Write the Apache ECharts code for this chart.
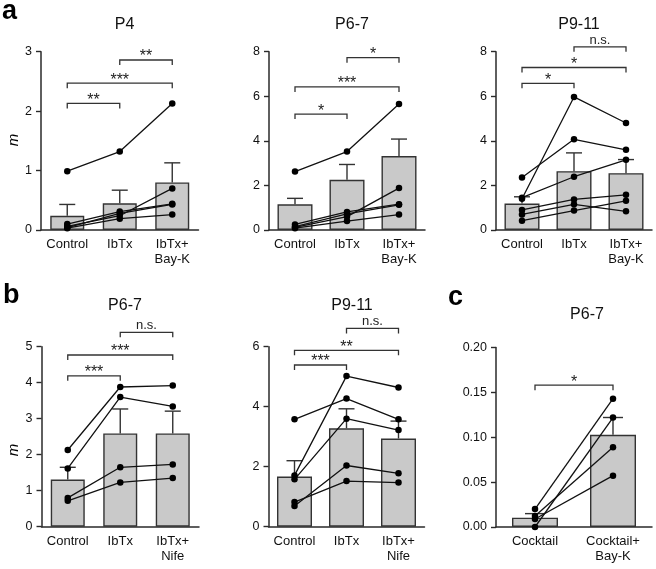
<!DOCTYPE html>
<html>
<head>
<meta charset="utf-8">
<script src="https://cdn.jsdelivr.net/npm/echarts@6/dist/echarts.min.js"></script>
<style>
html,body{margin:0;padding:0;background:#fff;}
#chart{width:656px;height:569px;}
</style>
</head>
<body>
<div id="chart"></div>
<script>
// ---------- categories ----------
const catsA = ['Control', 'IbTx', 'IbTx+\nBay-K'];
const catsB = ['Control', 'IbTx', 'IbTx+\nNife'];
const catsC = ['Cocktail', 'Cocktail+\nBay-K'];

// ---------- panel a, P4 ----------
const a1Mean = [0.24, 0.45, 0.80];
const a1Err = [0.43, 0.67, 1.13];
const a1Subjects = [[0.99, 1.32, 2.13], [0.06, 0.24, 0.70], [0.10, 0.31, 0.44], [0.04, 0.28, 0.43], [0.03, 0.19, 0.26]];
const a1Brackets = [[0, 1, 2.13, '**'], [0, 2, 2.47, '***'], [1, 2, 2.86, '**']];

// ---------- panel a, P6-7 ----------
const a2Mean = [1.15, 2.25, 3.32];
const a2Err = [1.42, 2.94, 4.08];
const a2Subjects = [[2.62, 3.52, 5.65], [0.12, 0.60, 1.88], [0.25, 0.81, 1.16], [0.15, 0.72, 1.13], [0.08, 0.40, 0.69]];
const a2Brackets = [[0, 1, 5.20, '*'], [0, 2, 6.42, '***'], [1, 2, 7.73, '*']];

// ---------- panel a, P9-11 ----------
const a3Mean = [1.19, 2.64, 2.55];
const a3Err = [1.49, 3.46, 3.16];
const a3Subjects = [[2.36, 4.07, 3.60], [1.40, 5.97, 4.80], [1.45, 2.39, 3.15], [0.90, 1.37, 1.58], [0.70, 1.15, 0.84], [0.42, 0.87, 1.31]];
const a3Brackets = [[0, 1, 6.58, '*'], [0, 2, 7.29, '*'], [1, 2, 8.22, 'n.s.']];

// ---------- panel b, P6-7 ----------
const b1Mean = [1.31, 2.59, 2.59];
const b1Err = [1.65, 3.27, 3.21];
const b1Subjects = [[2.13, 3.88, 3.92], [1.62, 3.60, 3.34], [0.80, 1.65, 1.73], [0.72, 1.23, 1.35]];
const b1Brackets = [[0, 1, 4.19, '***'], [0, 2, 4.77, '***'], [1, 2, 5.40, 'n.s.']];

// ---------- panel b, P9-11 ----------
const b2Mean = [1.67, 3.28, 2.94];
const b2Err = [2.20, 3.93, 3.52];
const b2Subjects = [[3.58, 4.27, 3.58], [1.71, 5.02, 4.64], [1.58, 3.60, 3.22], [0.69, 2.04, 1.78], [0.82, 1.52, 1.47]];
const b2Brackets = [[0, 1, 5.39, '***'], [0, 2, 5.88, '**'], [1, 2, 6.61, 'n.s.']];

// ---------- panel c, P6-7 ----------
const cMean = [0.0104, 0.1028];
const cErr = [0.0149, 0.122];
const cSubjects = [[0.020, 0.143], [0.0, 0.122], [0.0123, 0.0888], [0.0089, 0.0572]];
const cBrackets = [[0, 1, 0.158, '*']];

// ---------- y axis scales ----------
const yMax = [3, 8, 8, 5, 6, 0.20];
const yInterval = [1, 2, 2, 1, 2, 0.05];

const FONT = '"Liberation Sans", Arial, Helvetica, sans-serif';
const INK = '#2a2a2a';

const panels = [
  {title: 'P4', cats: catsA, mean: a1Mean, err: a1Err, subj: a1Subjects, br: a1Brackets,
   grid: {left: 41, top: 51.7, width: 157.5, height: 178.3}, bw: 34, cap: 16, tx: 119.5, ty: 12},
  {title: 'P6-7', cats: catsA, mean: a2Mean, err: a2Err, subj: a2Subjects, br: a2Brackets,
   grid: {left: 269, top: 51.7, width: 156, height: 178.3}, bw: 35, cap: 16, tx: 347, ty: 12},
  {title: 'P9-11', cats: catsA, mean: a3Mean, err: a3Err, subj: a3Subjects, br: a3Brackets,
   grid: {left: 496, top: 51.7, width: 156, height: 178.3}, bw: 35, cap: 16, tx: 574, ty: 12},
  {title: 'P6-7', cats: catsB, mean: b1Mean, err: b1Err, subj: b1Subjects, br: b1Brackets,
   grid: {left: 41.5, top: 346.7, width: 157.5, height: 180}, bw: 34, cap: 16, tx: 120, ty: 293},
  {title: 'P9-11', cats: catsB, mean: b2Mean, err: b2Err, subj: b2Subjects, br: b2Brackets,
   grid: {left: 268.5, top: 346.7, width: 156, height: 180}, bw: 35, cap: 16, tx: 347, ty: 293},
  {title: 'P6-7', cats: catsC, mean: cMean, err: cErr, subj: cSubjects, br: cBrackets,
   grid: {left: 496, top: 347.5, width: 156, height: 179.5}, bw: 46, cap: 20, tx: 582, ty: 302}
];

const option = {
  animation: false,
  backgroundColor: '#ffffff',
  title: [],
  grid: [],
  xAxis: [],
  yAxis: [],
  series: [],
  graphic: [
    {type: 'text', left: 2, top: -2, style: {text: 'a', font: 'bold 27px ' + FONT, fill: '#000'}},
    {type: 'text', left: 3, top: 282, style: {text: 'b', font: 'bold 27px ' + FONT, fill: '#000'}},
    {type: 'text', left: 448, top: 284, style: {text: 'c', font: 'bold 27px ' + FONT, fill: '#000'}},
    {type: 'text', x: 14, y: 140, rotation: Math.PI / 2,
     style: {text: 'm', font: 'italic 15px ' + FONT, fill: '#000', align: 'center', verticalAlign: 'middle'}},
    {type: 'text', x: 14, y: 450, rotation: Math.PI / 2,
     style: {text: 'm', font: 'italic 15px ' + FONT, fill: '#000', align: 'center', verticalAlign: 'middle'}}
  ]
};

panels.forEach((p, k) => {
  option.title.push({
    text: p.title, left: p.tx, top: p.ty, textAlign: 'center',
    textStyle: {fontFamily: FONT, fontSize: 16, fontWeight: 'normal', color: '#111'}
  });
  option.grid.push(Object.assign({containLabel: false}, p.grid));
  option.xAxis.push({
    type: 'category', gridIndex: k, data: p.cats,
    axisLine: {lineStyle: {color: INK, width: 1.5}},
    axisTick: {alignWithLabel: true, length: 5, lineStyle: {color: INK, width: 1.4}},
    axisLabel: {interval: 0, fontFamily: FONT, fontSize: 13, color: '#111', margin: 7, lineHeight: 15}
  });
  option.yAxis.push({
    type: 'value', gridIndex: k, min: 0, max: yMax[k], interval: yInterval[k],
    splitLine: {show: false},
    axisLine: {show: true, lineStyle: {color: INK, width: 1.5}},
    axisTick: {show: true, length: 5, lineStyle: {color: INK, width: 1.4}},
    axisLabel: {fontFamily: FONT, fontSize: 12.5, color: '#111', margin: 9,
      formatter: k === 5 ? (v) => v.toFixed(2) : (v) => String(v)}
  });
  // bars
  option.series.push({
    type: 'bar', xAxisIndex: k, yAxisIndex: k, data: p.mean, barWidth: p.bw,
    itemStyle: {color: '#c9c9c9', borderColor: '#333', borderWidth: 1.4}, z: 2
  });
  // error bars (upper)
  const cap = p.cap;
  option.series.push({
    type: 'custom', xAxisIndex: k, yAxisIndex: k, z: 3,
    data: p.mean.map((m, i) => [i, m, p.err[i]]),
    renderItem: function (params, api) {
      const a = api.coord([api.value(0), api.value(1)]);
      const b = api.coord([api.value(0), api.value(2)]);
      const st = {stroke: '#333', lineWidth: 1.4, fill: null};
      return {type: 'group', children: [
        {type: 'line', shape: {x1: a[0], y1: a[1], x2: b[0], y2: b[1]}, style: st},
        {type: 'line', shape: {x1: b[0] - cap / 2, y1: b[1], x2: b[0] + cap / 2, y2: b[1]}, style: st}
      ]};
    }
  });
  // individual subjects
  p.subj.forEach((s) => {
    option.series.push({
      type: 'line', xAxisIndex: k, yAxisIndex: k, data: s, z: 5,
      symbol: 'circle', symbolSize: 6.5, showSymbol: true, clip: false,
      lineStyle: {color: '#111', width: 1.3}, itemStyle: {color: '#000'}
    });
  });
  // significance brackets
  const br = p.br;
  option.series.push({
    type: 'custom', xAxisIndex: k, yAxisIndex: k, z: 6, clip: false,
    data: br.map((b) => [b[0], b[2]]),
    renderItem: function (params, api) {
      const b = br[params.dataIndex];
      const p1 = api.coord([b[0], b[2]]);
      const p2 = api.coord([b[1], b[2]]);
      const t = 5;
      const isNS = b[3] === 'n.s.';
      return {type: 'group', children: [
        {type: 'polyline', shape: {points: [[p1[0], p1[1] + t], [p1[0], p1[1]], [p2[0], p2[1]], [p2[0], p2[1] + t]]},
         style: {stroke: '#333', lineWidth: 1.3, fill: null}},
        {type: 'text', style: {text: b[3], x: (p1[0] + p2[0]) / 2, y: p1[1] + (isNS ? 0 : 5),
          align: 'center', verticalAlign: 'bottom', font: (isNS ? '13px ' : '16px ') + FONT, fill: '#222'}}
      ]};
    }
  });
});

const chart = echarts.init(document.getElementById('chart'), null, {renderer: 'canvas'});
chart.setOption(option);
</script>
</body>
</html>
